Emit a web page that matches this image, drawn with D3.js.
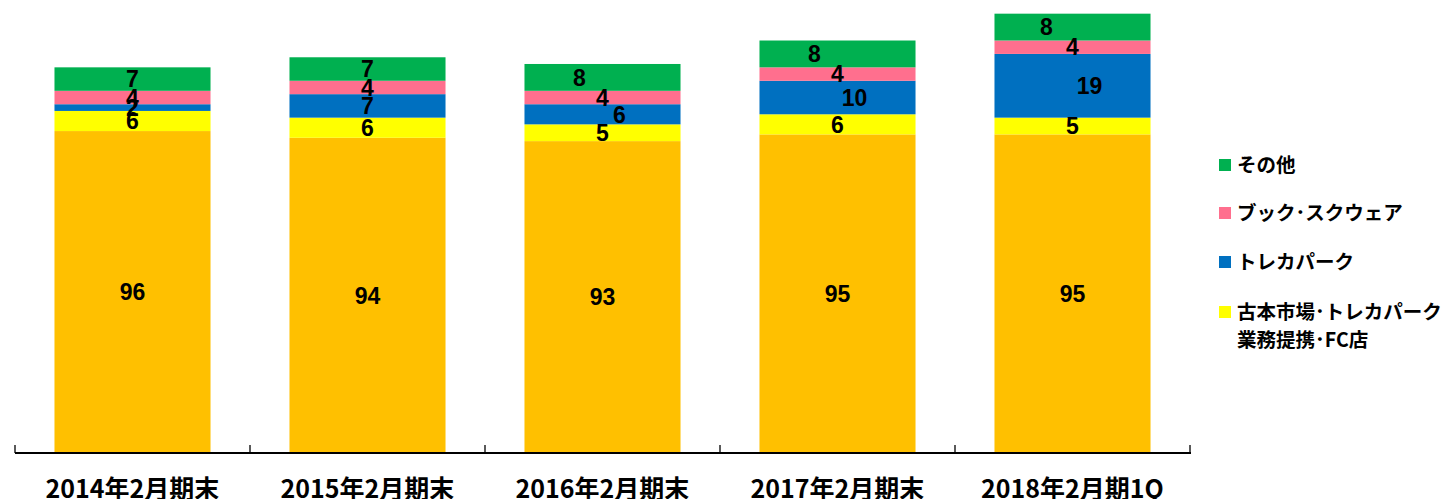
<!DOCTYPE html>
<html>
<head>
<meta charset="utf-8">
<script src="https://cdn.jsdelivr.net/npm/d3@7"></script>
<style>
  body { margin: 0; background: #fff; }
  text { font-family: "Noto Sans CJK JP", "Liberation Sans", sans-serif; font-weight: bold; }
</style>
</head>
<body>
<div id="chart"></div>
<script>
// categories and series (bottom to top)
const categories = ["2014年2月期末", "2015年2月期末", "2016年2月期末", "2017年2月期末", "2018年2月期1Q"];
const directStores = [96, 94, 93, 95, 95];
const fcStores = [6, 6, 5, 6, 5];
const trecaPark = [2, 7, 6, 10, 19];
const bookSquare = [4, 4, 4, 4, 4];
const others = [7, 7, 8, 8, 8];

const seriesNames = ["直営", "古本市場･トレカパーク\n業務提携･FC店", "トレカパーク", "ブック･スクウェア", "その他"];
const seriesValues = [directStores, fcStores, trecaPark, bookSquare, others];
const colors = ["#FFC000", "#FFFF00", "#0070C0", "#FF6F8E", "#00B050"];

// small nudges of the value labels, as in the original
const labelShift = [
    [0, 0, 0, 0, 0],
    [0, 0, 0, 0, 0],
    [0, 0, 17, 17, 17],
    [0, 0, 0, 0, 0],
    [0, 0, -23, -23, -26]
];

const width = 1447, height = 499;
const svg = d3.select("#chart").append("svg")
    .attr("width", width)
    .attr("height", height);

const x = d3.scaleBand()
    .domain(categories)
    .range([15, 1190])
    .paddingInner(0.336)
    .paddingOuter(0.168);

const y = d3.scaleLinear()
    .domain([0, 131.5])
    .range([453, 12]);

const rows = categories.map((c, i) => {
    const r = {cat: c};
    seriesValues.forEach((s, k) => r["s" + k] = s[i]);
    return r;
});
const stacked = d3.stack().keys(seriesValues.map((s, k) => "s" + k))(rows);

const layers = svg.append("g").selectAll("g")
    .data(stacked)
    .enter().append("g")
    .attr("fill", (d, k) => colors[k]);

layers.selectAll("rect")
    .data(d => d)
    .enter().append("rect")
    .attr("x", d => x(d.data.cat))
    .attr("y", d => y(d[1]))
    .attr("width", x.bandwidth())
    .attr("height", d => y(d[0]) - y(d[1]));

// value labels
stacked.forEach((layer, k) => {
    svg.append("g").selectAll("text")
        .data(layer)
        .enter().append("text")
        .attr("x", (d, i) => x(d.data.cat) + x.bandwidth() / 2 + labelShift[k][i])
        .attr("y", d => (y(d[0]) + y(d[1])) / 2)
        .attr("dy", "0.36em")
        .attr("text-anchor", "middle")
        .style("font-family", "'Liberation Sans', sans-serif")
        .style("font-size", "23px")
        .text(d => d[1] - d[0]);
});

// axis line with ticks at the band edges
const axis = svg.append("g");
axis.append("line")
    .attr("x1", 15).attr("x2", 1191)
    .attr("y1", 453).attr("y2", 453)
    .attr("stroke", "#000").attr("stroke-width", 2);
const edges = categories.map(c => x(c) - x.step() * x.paddingOuter()).concat([1190]);
axis.selectAll(".tick")
    .data(edges)
    .enter().append("line")
    .attr("x1", d => d).attr("x2", d => d)
    .attr("y1", 445).attr("y2", 453)
    .attr("stroke", "#000").attr("stroke-width", 1.3);

axis.selectAll(".cat")
    .data(categories)
    .enter().append("text")
    .attr("x", d => x(d) + x.bandwidth() / 2)
    .attr("y", 498)
    .attr("text-anchor", "middle")
    .style("font-size", "25px")
    .text(d => d);

// legend (top to bottom: others, book square, treca park, fc)
const legendItems = [4, 3, 2, 1];
const legendY = [165, 213, 262, 312];
const legend = svg.append("g");
legendItems.forEach((k, j) => {
    legend.append("rect")
        .attr("x", 1219).attr("y", legendY[j] - 6)
        .attr("width", 12).attr("height", 12)
        .attr("fill", colors[k]);
    const t = legend.append("text")
        .attr("x", 1237).attr("y", legendY[j])
        .style("font-size", "19.5px");
    seriesNames[k].split("\n").forEach((line, n) => {
        t.append("tspan")
            .attr("x", 1237)
            .attr("dy", n === 0 ? "0.36em" : "1.45em")
            .text(line);
    });
});
</script>
</body>
</html>
